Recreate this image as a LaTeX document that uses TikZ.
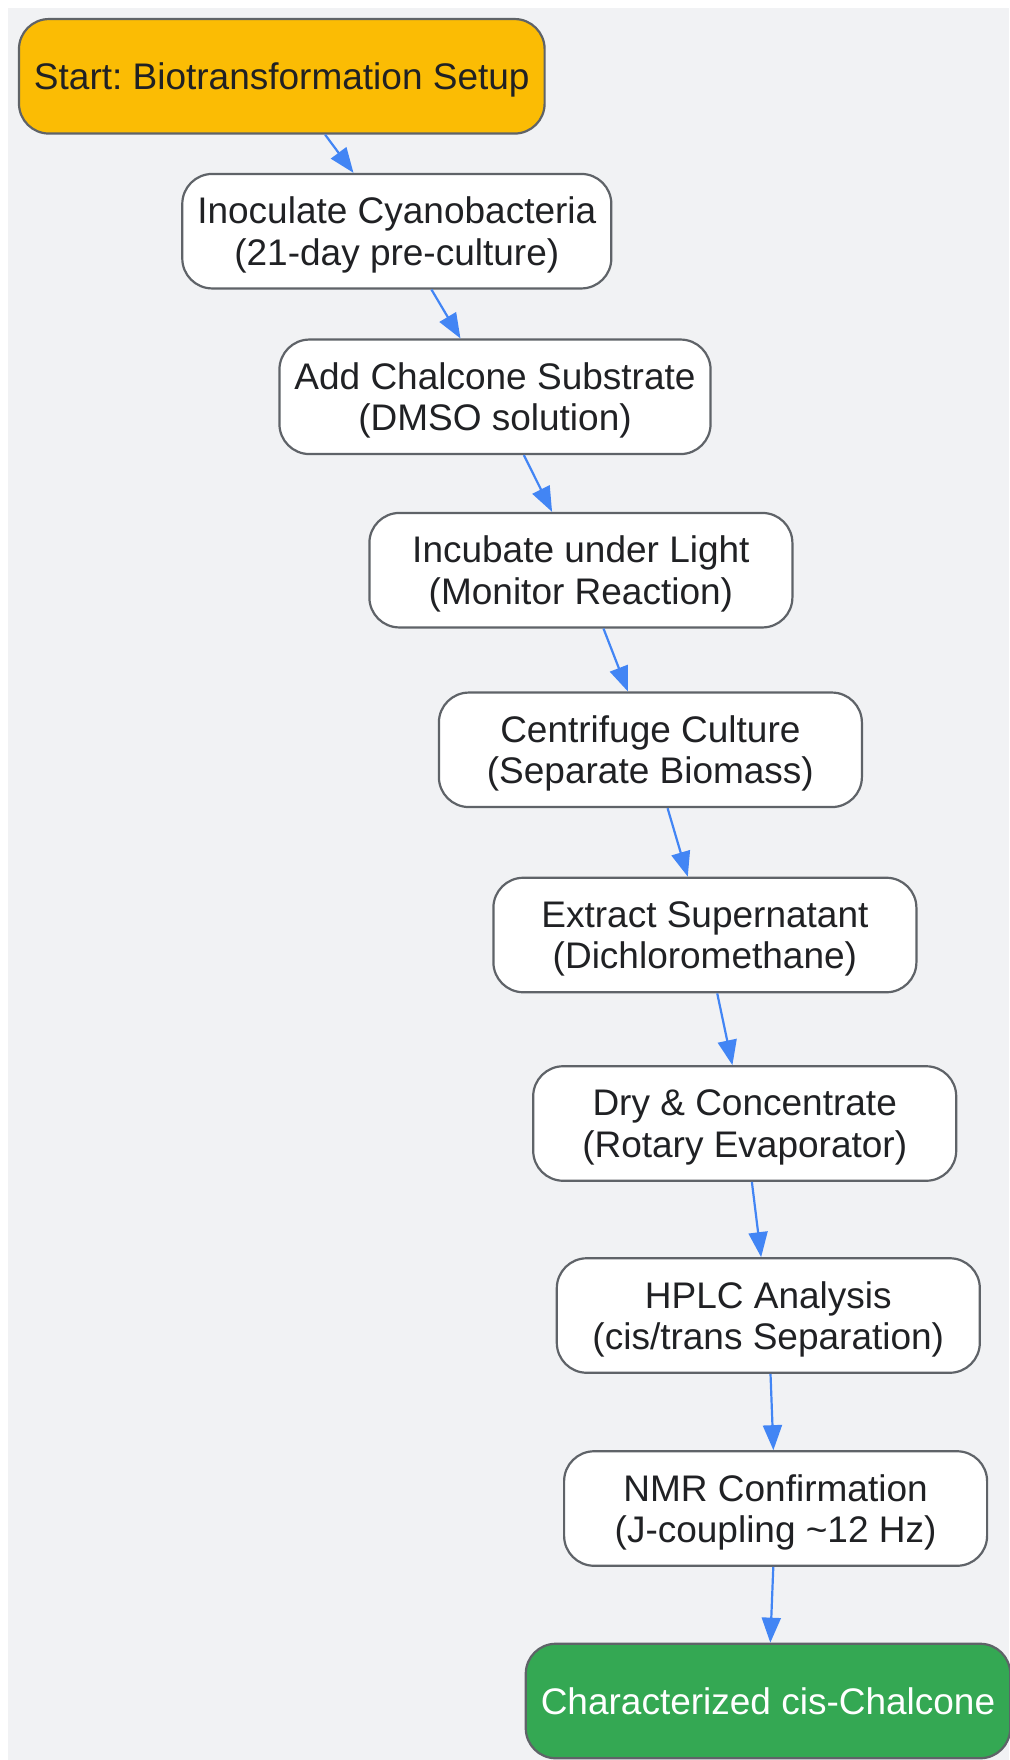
\documentclass[tikz,border=0pt]{standalone}
\usepackage{fontspec}
\setmainfont{Liberation Sans}
\usepackage{tikz}
\usetikzlibrary{arrows.meta}
\frenchspacing

\definecolor{boxline}{HTML}{5F6368}
\definecolor{textdark}{HTML}{202124}
\definecolor{arrowblue}{HTML}{4285F4}
\definecolor{canvas}{HTML}{F1F2F4}
\definecolor{startfill}{HTML}{FBBC04}
\definecolor{endfill}{HTML}{34A853}

\begin{document}
\begin{tikzpicture}[x=1pt, y=-1pt,
  stepbox/.style={draw=boxline, line width=2.2pt, rounded corners=30pt, fill=white,
    minimum width=423pt, minimum height=114.5pt, inner xsep=15pt, inner ysep=0pt,
    text depth=-2pt, align=center, text=textdark, font=\fontsize{37}{41.5}\selectfont},
  flow/.style={draw=arrowblue, line width=2.2pt, -{Triangle[length=25pt,width=19pt]}}]

\useasboundingbox (0, 0) rectangle (1009, 1760);
\fill[canvas] (8, 8) rectangle (1009, 1760);

%Steps
\node[stepbox, fill=startfill] (start) at (281.8, 76.3) {Start: Biotransformation Setup};
\node[stepbox] (inoc) at (396.8, 231.2) {Inoculate Cyanobacteria\\(21-day pre-culture)};
\node[stepbox] (addsub) at (495, 396.8) {Add Chalcone Substrate\\(DMSO solution)};
\node[stepbox] (incub) at (580.9, 570.2) {Incubate under Light\\(Monitor Reaction)};
\node[stepbox] (centr) at (650.4, 749.8) {Centrifuge Culture\\(Separate Biomass)};
\node[stepbox] (extr) at (704.9, 935) {Extract Supernatant\\(Dichloromethane)};
\node[stepbox] (dry) at (744.7, 1123.5) {Dry \& Concentrate\\(Rotary Evaporator)};
\node[stepbox] (hplc) at (768.3, 1315.5) {HPLC Analysis\\(cis/trans Separation)};
\node[stepbox] (nmr) at (775.6, 1508.5) {NMR Confirmation\\(J-coupling \textasciitilde12 Hz)};
\node[stepbox, fill=endfill, text=white] (done) at (768, 1701) {Characterized cis-Chalcone};

%Arrows
\draw[flow] (start) -- (inoc);
\draw[flow] (inoc) -- (addsub);
\draw[flow] (addsub) -- (incub);
\draw[flow] (incub) -- (centr);
\draw[flow] (centr) -- (extr);
\draw[flow] (extr) -- (dry);
\draw[flow] (dry) -- (hplc);
\draw[flow] (hplc) -- (nmr);
\draw[flow] (nmr) -- (done);

\end{tikzpicture}
\end{document}
